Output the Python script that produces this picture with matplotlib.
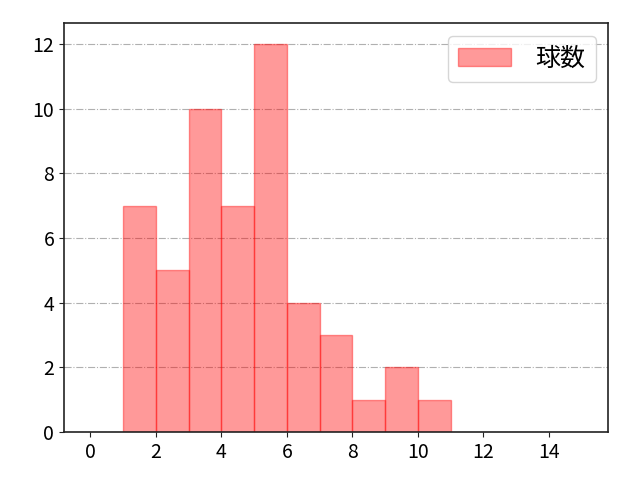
import matplotlib
matplotlib.use("Agg")
import matplotlib.pyplot as plt
import numpy as np

plt.rcParams['font.family'] = ['Noto Sans CJK JP', 'DejaVu Sans']

bin_edges = [1, 2, 3, 4, 5, 6, 7, 8, 9, 10, 11]
counts = [7, 5, 10, 7, 12, 4, 3, 1, 2, 1]
label = "球数"
xticks = [0, 2, 4, 6, 8, 10, 12, 14]

fig = plt.figure(figsize=(6.4, 4.8), dpi=100)
ax = fig.add_axes([0.1, 0.1, 0.85, 0.852])
ax.hist(bin_edges[:-1], bins=bin_edges, weights=counts, color='red', alpha=0.4,
        edgecolor='red', linewidth=1, label=label)
ax.set_xlim(-0.8, 15.8)
ax.set_ylim(0, 12.65)
ax.set_xticks(xticks)
ax.set_yticks([0, 2, 4, 6, 8, 10, 12])
ax.grid(axis='y', linestyle='-.', color='#b0b0b0', linewidth=0.8)
ax.set_axisbelow(True)
ax.tick_params(labelsize=14, color='#222222')
for s in ax.spines.values():
    s.set_linewidth(1.2)
    s.set_color('#222222')
ax.legend(fontsize=18, loc='upper right', handlelength=2.1, handletextpad=1.0)
fig.savefig("out.png", dpi=100)
